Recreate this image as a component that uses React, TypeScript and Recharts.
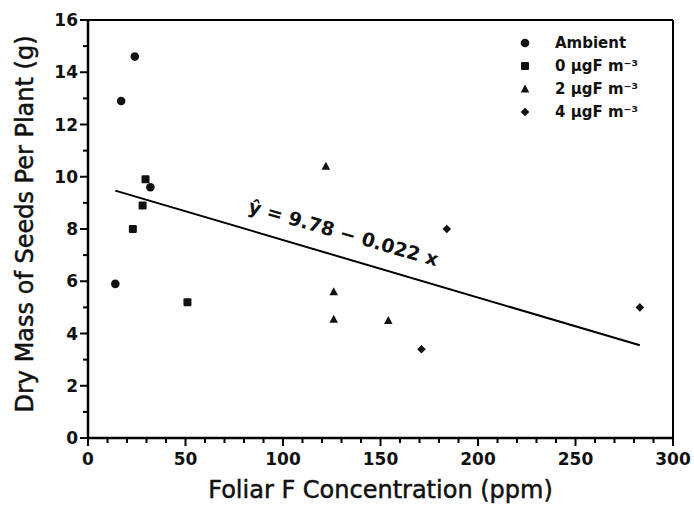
import React from 'react';
import { ScatterChart, Scatter, XAxis, YAxis, ReferenceLine, ReferenceDot, Legend, Label } from 'recharts';

// Data
const ambient = [
  { x: 14, y: 5.9 },
  { x: 17, y: 12.9 },
  { x: 24, y: 14.6 },
  { x: 32, y: 9.6 },
];
const ug0 = [
  { x: 23, y: 8.0 },
  { x: 28, y: 8.9 },
  { x: 29.5, y: 9.9 },
  { x: 51, y: 5.2 },
];
const ug2 = [
  { x: 122, y: 10.4 },
  { x: 126, y: 5.6 },
  { x: 126, y: 4.55 },
  { x: 154, y: 4.5 },
];
const ug4 = [
  { x: 171, y: 3.4 },
  { x: 184, y: 8.0 },
  { x: 283, y: 5.0 },
];
const fitLine = [
  { x: 14, y: 9.47 },
  { x: 283, y: 3.55 },
];
const fitLabel = { x: 131, y: 7.85, text: 'ŷ = 9.78 − 0.022 x' };

const xTicks = [0, 10, 20, 30, 40, 50, 60, 70, 80, 90, 100, 110, 120, 130, 140, 150, 160, 170, 180, 190, 200, 210, 220, 230, 240, 250, 260, 270, 280, 290, 300];
const xLabelTicks = [0, 50, 100, 150, 200, 250, 300];
const yTicks = [0, 1, 2, 3, 4, 5, 6, 7, 8, 9, 10, 11, 12, 13, 14, 15, 16];
const yLabelTicks = [0, 2, 4, 6, 8, 10, 12, 14, 16];

const xTitle = 'Foliar F Concentration (ppm)';
const yTitle = 'Dry Mass of Seeds Per Plant (g)';

const FONT = '"DejaVu Sans", Verdana, sans-serif';

type ShapeKind = 'circle' | 'square' | 'triangle' | 'diamond';

const drawShape = (kind: ShapeKind, cx: number, cy: number) => {
  switch (kind) {
    case 'circle':
      return <circle cx={cx} cy={cy} r={4.3} fill="#111" />;
    case 'square':
      return <rect x={cx - 4} y={cy - 4} width={8} height={8} rx={1.2} fill="#111" />;
    case 'triangle':
      return <polygon points={`${cx},${cy - 4.5} ${cx + 4.3},${cy + 3.5} ${cx - 4.3},${cy + 3.5}`} fill="#111" />;
    case 'diamond':
      return <polygon points={`${cx},${cy - 4.3} ${cx + 4.3},${cy} ${cx},${cy + 4.3} ${cx - 4.3},${cy}`} fill="#111" />;
  }
};

const series: { name: string; data: { x: number; y: number }[]; kind: ShapeKind }[] = [
  { name: 'Ambient', data: ambient, kind: 'circle' },
  { name: '0 μgF m⁻³', data: ug0, kind: 'square' },
  { name: '2 μgF m⁻³', data: ug2, kind: 'triangle' },
  { name: '4 μgF m⁻³', data: ug4, kind: 'diamond' },
];

const XTick = (props: any) => {
  const { x, y, payload } = props;
  const major = xLabelTicks.includes(payload.value);
  return (
    <g>
      <line x1={x} x2={x} y1={y} y2={y + (major ? 8 : 5)} stroke="#000" strokeWidth={2} />
      {major && (
        <text x={x} y={y + 27} textAnchor="middle" fontFamily={FONT} fontWeight="bold" fontSize={17} fill="#111">
          {payload.value}
        </text>
      )}
    </g>
  );
};

const YTick = (props: any) => {
  const { x, y, payload } = props;
  const major = yLabelTicks.includes(payload.value);
  return (
    <g>
      <line x1={x - (major ? 8 : 5)} x2={x} y1={y} y2={y} stroke="#000" strokeWidth={2} />
      {major && (
        <text x={x - 10} y={y + 6} textAnchor="end" fontFamily={FONT} fontWeight="bold" fontSize={17} fill="#111">
          {payload.value}
        </text>
      )}
    </g>
  );
};

const LegendContent = () => (
  <div style={{ fontFamily: FONT, fontWeight: 'bold', fontSize: 15, color: '#111' }}>
    {series.map((s) => (
      <div key={s.name} style={{ display: 'flex', alignItems: 'center', height: 23 }}>
        <svg width={14} height={14} style={{ marginRight: 23 }}>
          {drawShape(s.kind, 7, 7)}
        </svg>
        <span>{s.name}</span>
      </div>
    ))}
  </div>
);

export default function App() {
  return (
    <div style={{ position: 'absolute', left: 0, top: 0, background: '#fff' }}>
      <ScatterChart width={694} height={513} margin={{ top: 20, right: 21, bottom: 45, left: 28 }}>
        <XAxis
          type="number"
          dataKey="x"
          domain={[0, 300]}
          ticks={xTicks}
          interval={0}
          tick={<XTick />}
          tickLine={false}
          tickSize={0}
          tickMargin={0}
          height={30}
          axisLine={{ stroke: '#000', strokeWidth: 2.5 }}
          allowDataOverflow
        >
          <Label
            content={(p: any) => {
              const vb = p.viewBox;
              return (
                <text x={vb.x + vb.width / 2} y={vb.y + 60} textAnchor="middle" fontFamily={FONT} fontSize={24} fill="#111" stroke="#111" strokeWidth={0.5}>
                  {xTitle}
                </text>
              );
            }}
          />
        </XAxis>
        <YAxis
          type="number"
          dataKey="y"
          domain={[0, 16]}
          ticks={yTicks}
          interval={0}
          tick={<YTick />}
          tickLine={false}
          tickSize={0}
          tickMargin={0}
          width={60}
          axisLine={{ stroke: '#000', strokeWidth: 2.5 }}
          allowDataOverflow
        >
          <Label
            content={(p: any) => {
              const vb = p.viewBox;
              const cx = 33;
              const cy = vb.y + vb.height / 2 - 5;
              return (
                <text x={cx} y={cy} transform={`rotate(-90, ${cx}, ${cy})`} textAnchor="middle" fontFamily={FONT} fontSize={24} fill="#111" stroke="#111" strokeWidth={0.5}>
                  {yTitle}
                </text>
              );
            }}
          />
        </YAxis>
        <ReferenceLine y={16} stroke="#000" strokeWidth={2} ifOverflow="visible" />
        <ReferenceLine x={300} stroke="#000" strokeWidth={2} ifOverflow="visible" />
        <ReferenceLine
          segment={[fitLine[0], fitLine[1]]}
          stroke="#000"
          strokeWidth={2}
          ifOverflow="visible"
        />
        <ReferenceDot
          x={fitLabel.x}
          y={fitLabel.y}
          ifOverflow="visible"
          shape={(p: any) => (
            <text
              x={p.cx}
              y={p.cy}
              dy="0.35em"
              transform={`rotate(16, ${p.cx}, ${p.cy})`}
              textAnchor="middle"
              fontFamily={FONT}
              fontWeight="bold"
              fontSize={19}
              fill="#111"
            >
              {fitLabel.text}
            </text>
          )}
        />
        {series.map((s) => (
          <Scatter
            key={s.name}
            name={s.name}
            data={s.data}
            isAnimationActive={false}
            shape={(p: any) => drawShape(s.kind, p.cx, p.cy)}
          />
        ))}
        <Legend
          layout="vertical"
          align="center"
          verticalAlign="middle"
          content={<LegendContent />}
          wrapperStyle={{ position: 'absolute', top: 31, left: 518, width: 150 }}
        />
      </ScatterChart>
    </div>
  );
}
